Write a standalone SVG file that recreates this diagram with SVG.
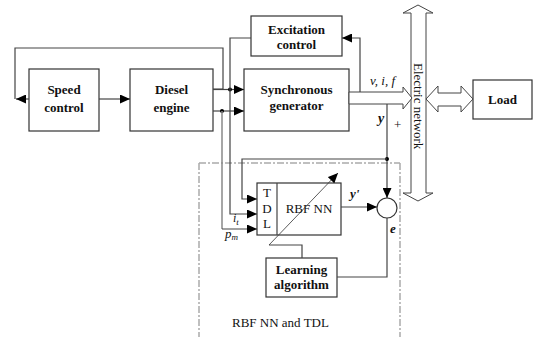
<svg xmlns="http://www.w3.org/2000/svg" width="534" height="337" viewBox="0 0 534 337" font-family="'Liberation Serif', 'Times New Roman', serif">
  <defs>
    <marker id="ah" viewBox="0 0 10 9" refX="10" refY="4.5" markerWidth="10" markerHeight="9" markerUnits="userSpaceOnUse" orient="auto">
      <path d="M0,0 L10,4.5 L0,9z" fill="#000"/>
    </marker>
    <marker id="ahs" viewBox="0 0 10 9" refX="10" refY="4.5" markerWidth="10" markerHeight="9" markerUnits="userSpaceOnUse" orient="auto">
      <path d="M0,0 L10,4.5 L0,9z" fill="#000"/>
    </marker>
  </defs>
  <style>
    .box { fill: #fff; stroke: #333; stroke-width: 1.2; }
    .hollow { fill: #fff; stroke: #444; stroke-width: 1; }
    .ln { fill: none; stroke: #444; stroke-width: 1.2; }
    .lg { fill: none; stroke: #888; stroke-width: 1.5; }
    .thin { fill: none; stroke: #333; stroke-width: 0.8; }
    .dash { fill: none; stroke: #aaa; stroke-width: 1.5; stroke-dasharray: 7 2 2 2; }
    text { font-family: 'Liberation Serif', 'Times New Roman', serif; fill: #111; }
    .lbl { font-size: 13px; font-weight: bold; text-anchor: middle; }
    .reg { font-size: 13px; }
    .it { font-style: italic; }
    .dot { fill: #000; }
  </style>

  <!-- dash-dot frame of the neural estimator -->
  <g id="frame">
    <path class="dash" d="M199,163 H400 M199,163 V337 M400,163 V337"/>
    <text class="reg" x="232" y="327" font-size="11">RBF NN and TDL</text>
  </g>

  <g id="speed-control">
    <rect class="box" x="29" y="69" width="70" height="62"/>
    <text class="lbl" x="64" y="94">Speed</text>
    <text class="lbl" x="64" y="112">control</text>
  </g>

  <g id="diesel-engine">
    <rect class="box" x="130" y="69" width="83" height="62"/>
    <text class="lbl" x="171.5" y="94">Diesel</text>
    <text class="lbl" x="171.5" y="112">engine</text>
  </g>

  <g id="excitation-control">
    <rect class="box" x="251" y="16" width="91" height="40"/>
    <text class="lbl" x="296.5" y="34">Excitation</text>
    <text class="lbl" x="296.5" y="49">control</text>
  </g>

  <g id="synchronous-generator">
    <rect class="box" x="244" y="69" width="105" height="62"/>
    <text class="lbl" x="296.5" y="94">Synchronous</text>
    <text class="lbl" x="296.5" y="110">generator</text>
  </g>

  <g id="electric-network">
    <polygon class="hollow" points="418,5 433,13 426,13 426,193 433,193 418,201 403,193 411,193 411,13 403,13"/>
    <text class="reg" transform="translate(414,63) rotate(90)" font-size="12">Electric network</text>
  </g>

  <g id="load">
    <rect class="box" x="473" y="80" width="59" height="39"/>
    <text class="lbl" x="502.5" y="104">Load</text>
  </g>

  <g id="tdl-rbf">
    <rect class="box" x="257" y="183" width="84" height="52"/>
    <line class="ln" x1="277" y1="183" x2="277" y2="235"/>
    <text class="reg" x="267" y="197" font-size="12" text-anchor="middle">T</text>
    <text class="reg" x="267" y="213" font-size="12" text-anchor="middle">D</text>
    <text class="reg" x="267" y="228" font-size="12" text-anchor="middle">L</text>
    <text class="reg" x="309" y="213" font-size="14" text-anchor="middle">RBF NN</text>
  </g>

  <g id="comparator">
    <circle class="box" cx="387" cy="208" r="10"/>
  </g>

  <g id="learning-algorithm">
    <rect class="box" x="266" y="258" width="71" height="39"/>
    <text class="lbl" x="301.5" y="274">Learning</text>
    <text class="lbl" x="301.5" y="289">algorithm</text>
  </g>

  <!-- connectors, drawn over the blocks -->
  <g id="connectors">
    <!-- speed control loop -->
    <path class="ln" d="M213,89 H223 V48 H15 V99"/>
    <path class="ln" d="M29,99 H16" marker-end="url(#ah)"/>
    <path class="ln" d="M99,99 H130" marker-end="url(#ah)"/>
    <!-- diesel engine to generator -->
    <path class="ln" d="M213,89.5 H244" marker-end="url(#ah)"/>
    <path class="ln" d="M213,111 H244" marker-end="url(#ah)"/>
    <circle class="dot" cx="230" cy="89.5" r="2"/>
    <circle class="dot" cx="222" cy="111" r="2"/>
    <!-- measured signals to TDL -->
    <path class="ln" d="M251,38 H230 V214 H257" marker-end="url(#ah)"/>
    <path class="lg" d="M222,111 V229"/>
    <path class="ln" d="M222,229 H257" marker-end="url(#ah)"/>
    <!-- excitation feedback -->
    <path class="ln" d="M360,92 V38 H342" marker-end="url(#ah)"/>
    <!-- plant output y -->
    <path class="ln" d="M387,104 V198" marker-end="url(#ah)"/>
    <circle class="dot" cx="387" cy="159" r="2"/>
    <path class="ln" d="M387,159 H242 V199 H257" marker-end="url(#ah)"/>
    <!-- estimate y' to comparator -->
    <path class="ln" d="M341,207 H377" marker-end="url(#ah)"/>
    <!-- error e to learning algorithm -->
    <path class="ln" d="M387,218 V277 H337"/>
    <!-- weight adjustment -->
    <path class="ln" d="M302,258 V245 H269"/>
    <path class="thin" d="M269,245 L338,173" marker-end="url(#ahs)"/>
    <!-- power flow arrows -->
    <polygon class="hollow" points="349,92 403,92 403,87 412,98 403,109 403,104 349,104"/>
    <polygon class="hollow" points="426,99 438,86 438,93 461,93 461,86 473,99 461,112 461,106 438,106 438,112"/>
    <text class="it" x="370" y="85" font-size="13">v, i, f</text>
    <text class="it" x="378" y="123" font-size="14" font-weight="bold">y</text>
    <text class="reg" x="394" y="129">+</text>
    <text class="it" x="233" y="222" font-size="12">i<tspan font-size="9" dy="3">t</tspan></text>
    <text class="it" x="225" y="238" font-size="13">p<tspan font-size="9" dy="2">m</tspan></text>
    <text class="it" x="350" y="198" font-size="13" font-weight="bold">y'</text>
    <text class="it" x="390" y="233" font-size="13" font-weight="bold">e</text>
  </g>
</svg>
